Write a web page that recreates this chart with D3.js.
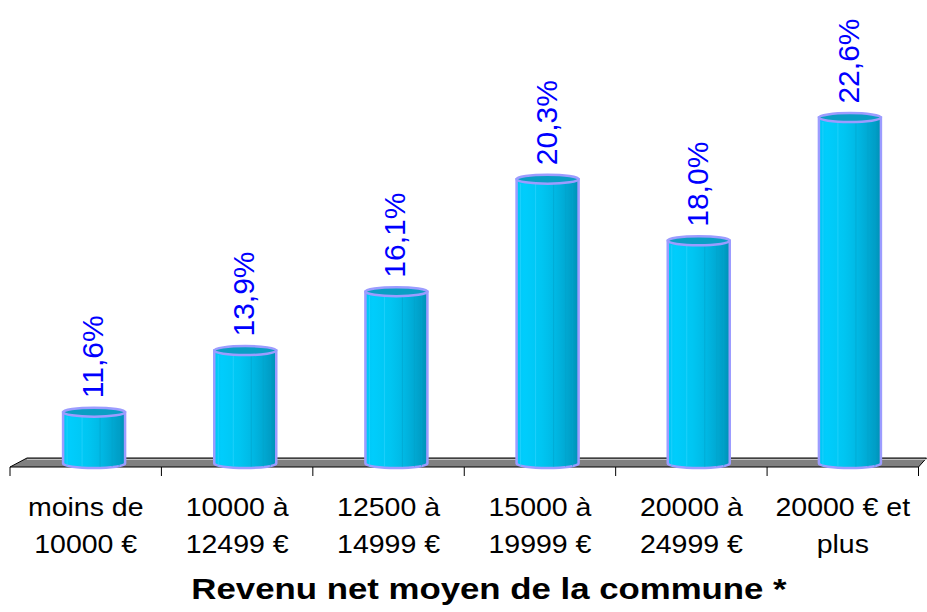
<!DOCTYPE html>
<html>
<head>
<meta charset="utf-8">
<script src="https://cdn.jsdelivr.net/npm/d3@7"></script>
<style>
  body { margin: 0; background: #fff; }
  text { font-family: Arial, "Liberation Sans", sans-serif; }
</style>
</head>
<body>
<script>
const w = 927;
const h = 612;

// data
const categories = ["c1", "c2", "c3", "c4", "c5", "c6"];
const labelLine1 = ["moins de", "10000 à", "12500 à", "15000 à", "20000 à", "20000 € et"];
const labelLine2 = ["10000 €", "12499 €", "14999 €", "19999 €", "24999 €", "plus"];
const values = [11.6, 13.9, 16.1, 20.3, 18.0, 22.6];
const valueLabels = ["11,6%", "13,9%", "16,1%", "20,3%", "18,0%", "22,6%"];
const title = "Revenu net moyen de la commune *";

const floorFront = 467, floorBack = 458;

let svg = d3.select("body")
    .append("svg")
    .attr("width", w)
    .attr("height", h);

// front edge of the floor (ticks + labels)
let x = d3.scaleBand().domain(categories).range([10, 918.5]).padding(0);
// back plane, where the cylinders stand
let xb = d3.scaleBand().domain(categories).range([18.5, 925.5]).padding(0);
let y = d3.scaleLinear().domain([10, 24]).range([455, 455 - 14 * 26.78]);

let defs = svg.append("defs");
let grad = defs.append("linearGradient").attr("id", "cyl")
    .attr("x1", 0).attr("x2", 1).attr("y1", 0).attr("y2", 0);
[[0, "#00c6f4"], [0.12, "#00cdfc"], [0.4, "#00c6f2"], [0.62, "#00b8e4"],
 [0.8, "#00a8d2"], [0.92, "#009cc4"], [1, "#0090b6"]].forEach(s =>
    grad.append("stop").attr("offset", s[0]).attr("stop-color", s[1]));

// floor
let x0 = x.range()[0], x1 = x.range()[1];
svg.append("path")
    .attr("d", `M${x0},${floorFront} L${x1},${floorFront} L${x1 + 8},${floorBack} L${x0 + 17},${floorBack} Z`)
    .style("fill", "#808080")
    .style("stroke", "#000")
    .style("stroke-width", 1);
svg.append("line")
    .attr("x1", x0 + 17).attr("x2", x1 + 8)
    .attr("y1", floorBack + 1.5).attr("y2", floorBack + 1.5)
    .style("stroke", "#c0c0c0").style("stroke-width", 1);

// ticks at the category boundaries
let bounds = categories.map(c => x(c)).concat([x1]);
svg.selectAll(".tick")
    .data(bounds)
    .enter()
    .append("line")
    .attr("class", "tick")
    .attr("x1", d => d).attr("x2", d => d)
    .attr("y1", floorFront).attr("y2", floorFront + 9)
    .style("stroke", "#000").style("stroke-width", 1);

// cylinders
const rx = 31, ry = 4.5, bottom = 463.5;
let bars = svg.selectAll(".bar")
    .data(values)
    .enter()
    .append("g")
    .attr("class", "bar")
    .attr("transform", (d, i) => "translate(" + (xb(categories[i]) + xb.bandwidth() / 2) + ",0)");

bars.append("path")
    .attr("d", d => `M${-rx},${y(d)} L${-rx},${bottom} A${rx},${ry} 0 0 0 ${rx},${bottom} L${rx},${y(d)} Z`)
    .style("fill", "url(#cyl)")
    .style("stroke", "#9c9cff")
    .style("stroke-width", 2.5);

// faint facet lines on the body
[-27, -12, 6, 18, 25].forEach(dx => {
    bars.append("line")
        .attr("x1", dx).attr("x2", dx)
        .attr("y1", d => y(d) + ry).attr("y2", bottom + 3)
        .style("stroke", dx < 0 ? "#33d6ff" : "#00a4cc")
        .style("stroke-width", 1)
        .style("opacity", 0.6);
});

bars.append("ellipse")
    .attr("cx", 0)
    .attr("cy", d => y(d))
    .attr("rx", rx)
    .attr("ry", ry)
    .style("fill", "#0a9ec4")
    .style("stroke", "#9c9cff")
    .style("stroke-width", 2.5);

// value labels, rotated
bars.append("text")
    .attr("transform", d => "translate(9," + (y(d) - 14) + ") rotate(-90)")
    .attr("text-anchor", "start")
    .style("font-size", "30px")
    .style("fill", "#0000ff")
    .text((d, i) => valueLabels[i]);

// category labels (slightly stretched like the original)
let cats = svg.selectAll(".cat")
    .data(categories)
    .enter()
    .append("g")
    .attr("class", "cat")
    .attr("transform", d => "translate(" + (x(d) + x.bandwidth() / 2) + ",0) scale(1.14,1)");
cats.append("text")
    .attr("y", 516)
    .attr("text-anchor", "middle")
    .style("font-size", "25px")
    .text((d, i) => labelLine1[i]);
cats.append("text")
    .attr("y", 553)
    .attr("text-anchor", "middle")
    .style("font-size", "25px")
    .text((d, i) => labelLine2[i]);

svg.append("text")
    .attr("transform", "translate(489,599) scale(1.16,1)")
    .attr("text-anchor", "middle")
    .style("font-size", "30px")
    .style("font-weight", "bold")
    .text(title);
</script>
</body>
</html>
